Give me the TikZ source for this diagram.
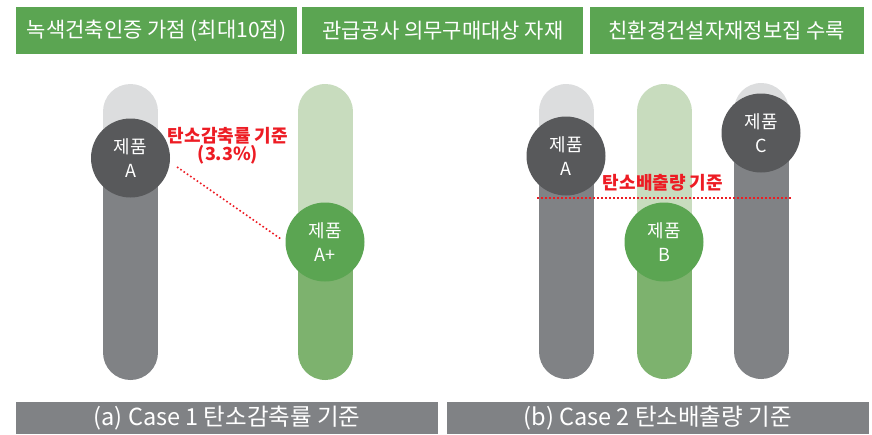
\documentclass[tikz,border=0pt]{standalone}
\usepackage{fontspec}
\setmainfont{Noto Sans CJK KR}
\usepackage{tikz}
\usetikzlibrary{positioning}
\definecolor{hdrgreen}{HTML}{5BA552}
\definecolor{circgray}{HTML}{58595B}
\definecolor{bargray}{HTML}{808285}
\definecolor{topgray}{HTML}{DCDDDE}
\definecolor{topgreen}{HTML}{C8DCBE}
\definecolor{lowgreen}{HTML}{7DB26E}
\definecolor{cutred}{HTML}{ED1C24}

\begin{document}
\begin{tikzpicture}[x=1pt,y=-1pt,
    hdr/.style={fill=hdrgreen,text=white,minimum height=47pt,inner sep=0pt,font=\fontsize{21}{24}\selectfont},
    foot/.style={fill=bargray,text=white,minimum height=32pt,inner sep=0pt,font=\fontsize{23.5}{26}\selectfont},
    prod/.style={circle,minimum size=79pt,inner sep=0pt,text=white,align=center,font=\fontsize{18}{24}\selectfont},
    pillar/.style={line width=55pt,line cap=round},
    cut/.style={cutred,line width=1.6pt,dash pattern=on 1.6pt off 2.4pt},
    cutlabel/.style={text=cutred,align=center,inner sep=0pt,font=\fontsize{18}{18}\selectfont\bfseries}] %
  \useasboundingbox (0,0) rectangle (872,434); %
  % headers
  \node[hdr,minimum width=281pt] (green1) at (156.5,30.5) {녹색건축인증 가점 (최대10점)}; %
  \node[hdr,minimum width=281pt,right=5pt of green1] (green2) {관급공사 의무구매대상 자재}; %
  \node[hdr,minimum width=274pt,right=6pt of green2] (green3) {친환경건설자재정보집 수록}; %
  % case 1
  \draw[pillar,topgray] (130.5,111.5) -- (130.5,158); %
  \draw[pillar,bargray] (130.5,158) -- (130.5,352.5); %
  \draw[pillar,topgreen] (325,111.5) -- (325,242); %
  \draw[pillar,lowgreen] (325,242) -- (325,352.5); %
  \node[prod,fill=circgray] (prodA) at (130.5,158) {제품\\A}; %
  \node[prod,fill=hdrgreen] (prodAp) at (325,242) {제품\\A+}; %
  \node[cutlabel] (rate) at (228,146) {탄소감축률 기준\\(3.3\%)}; %
  \coordinate (rateS) at (177,167); %
  \draw[cut,shorten >=4pt] (rateS) -- (prodAp.west); %
  % case 2
  \draw[pillar,topgray] (566,111.5) -- (566,156); %
  \draw[pillar,bargray] (566,156) -- (566,351.5); %
  \draw[pillar,topgreen] (664,111.5) -- (664,242); %
  \draw[pillar,lowgreen] (664,242) -- (664,351.5); %
  \draw[pillar,topgray] (761,110.5) -- (761,133); %
  \draw[pillar,bargray] (761,133) -- (761,351.5); %
  \coordinate (cutL) at (537,198); %
  \coordinate (cutR) at (792,198); %
  \draw[cut] (cutL) -- (cutR); %
  \node[cutlabel] (amount) at (663,183) {탄소배출량 기준}; %
  \node[prod,fill=circgray] (prodA2) at (566,156) {제품\\A}; %
  \node[prod,fill=hdrgreen] (prodB) at (664,242) {제품\\B}; %
  \node[prod,fill=circgray] (prodC) at (761,133) {제품\\C}; %
  % captions
  \node[foot,minimum width=422pt,anchor=north west] (caseA) at (16,402) {(a) Case 1 탄소감축률 기준}; %
  \node[foot,minimum width=422pt,right=8pt of caseA] (caseB) {(b) Case 2 탄소배출량 기준}; %
\end{tikzpicture}
\end{document}
